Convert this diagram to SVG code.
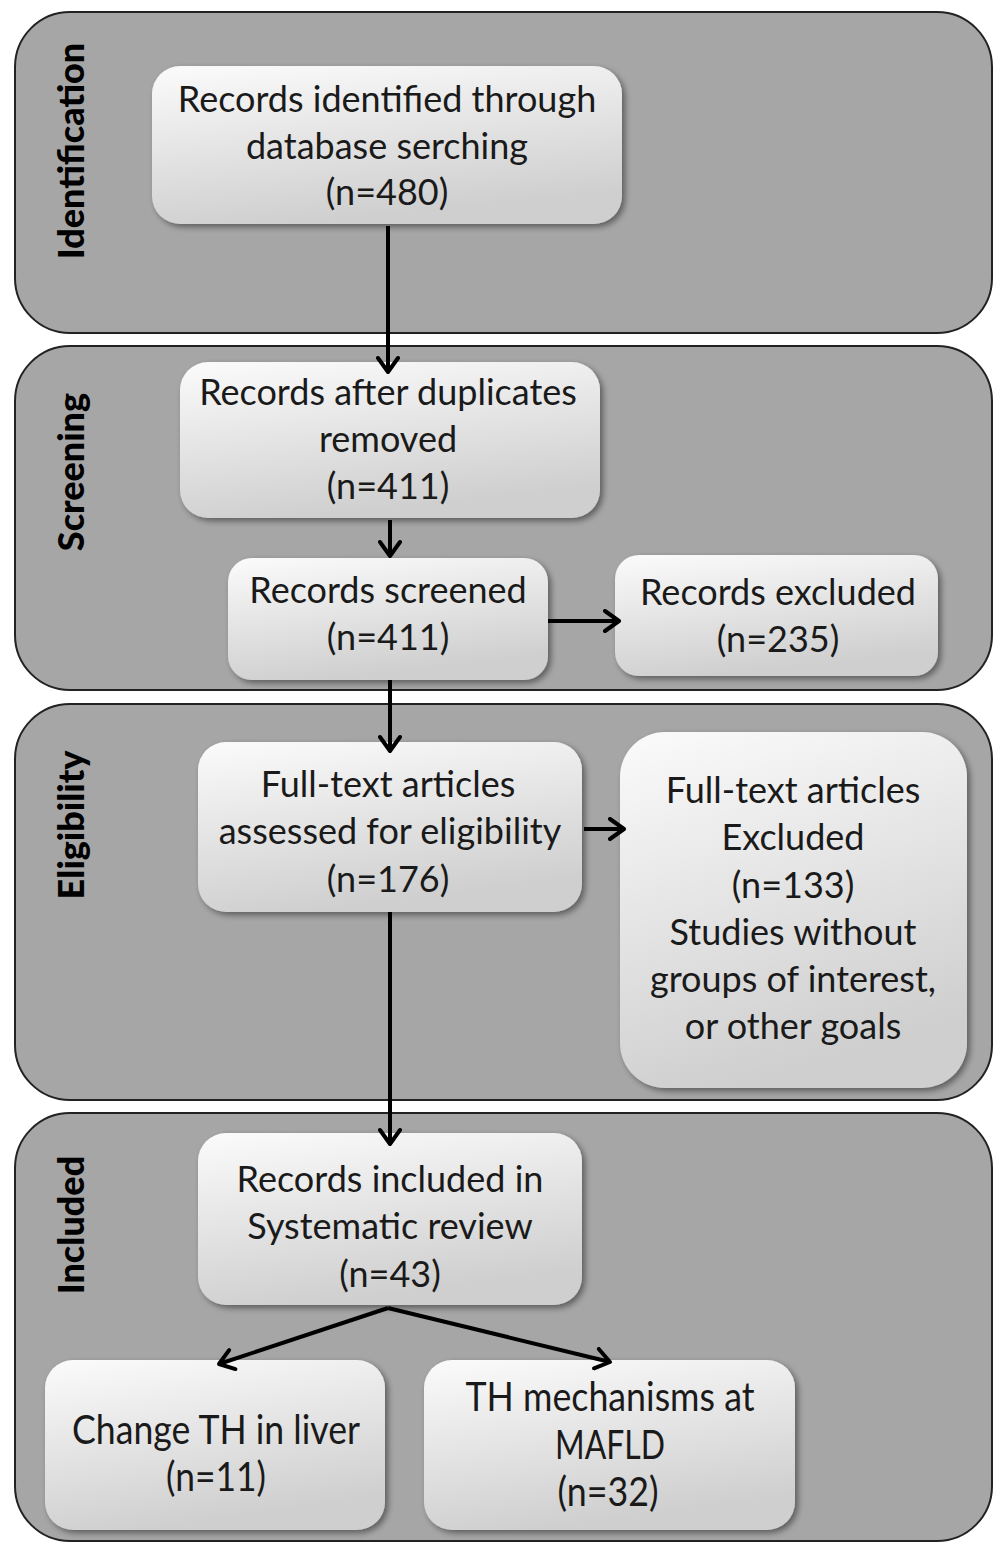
<svg xmlns="http://www.w3.org/2000/svg" width="996" height="1544" viewBox="0 0 996 1544">
<defs>
<linearGradient id="bx" x1="0" y1="0" x2="0.3" y2="1">
<stop offset="0" stop-color="#fbfbfb"/>
<stop offset="1" stop-color="#cfcfcf"/>
</linearGradient>
<filter id="sh" x="-10%" y="-10%" width="130%" height="130%">
<feGaussianBlur in="SourceAlpha" stdDeviation="3"/>
<feOffset dx="3" dy="3"/>
<feComponentTransfer><feFuncA type="linear" slope="0.45"/></feComponentTransfer>
<feMerge><feMergeNode/><feMergeNode in="SourceGraphic"/></feMerge>
</filter>
<marker id="ah" viewBox="0 0 24 24" refX="20" refY="12" markerWidth="24" markerHeight="24" markerUnits="userSpaceOnUse" orient="auto">
<path d="M6,2 L20,12 L6,22" fill="none" stroke="#000" stroke-width="4" stroke-linecap="round" stroke-linejoin="round"/>
</marker>
</defs>
<style>
.panel{fill:#a6a6a6;stroke:#222;stroke-width:2}
.box{fill:url(#bx);filter:url(#sh)}
.t{font-family:Lato,"Liberation Sans",sans-serif;font-size:36px;fill:#1a1a1a;text-anchor:middle}
.c{font-family:Lato,"Liberation Sans",sans-serif;font-size:40px;fill:#1a1a1a;text-anchor:middle}
.lab{font-family:Lato,"Liberation Sans",sans-serif;font-weight:900;font-size:36px;fill:#000;text-anchor:middle}
.ln{stroke:#000;stroke-width:4;fill:none}
</style>
<rect width="996" height="1544" fill="#fff"/>
<g id="panels">
<rect class="panel" x="15" y="12" width="977" height="321" rx="55"/>
<rect class="panel" x="15" y="346" width="977" height="344" rx="55"/>
<rect class="panel" x="15" y="704" width="977" height="396" rx="55"/>
<rect class="panel" x="15" y="1113" width="977" height="428" rx="55"/>
<text class="lab" transform="translate(84,151) rotate(-90)">Identification</text>
<text class="lab" transform="translate(84,472) rotate(-90)">Screening</text>
<text class="lab" transform="translate(84,825) rotate(-90)">Eligibility</text>
<text class="lab" transform="translate(84,1225) rotate(-90)">Included</text>
</g>
<g id="n1">
<rect class="box" x="152" y="66" width="470" height="158" rx="28"/>
<text class="t" x="387" y="112">Records identified through</text>
<text class="t" x="387" y="159">database serching</text>
<text class="t" x="387" y="205">(n=480)</text>
</g>
<g id="n2">
<rect class="box" x="180" y="362" width="420" height="156" rx="28"/>
<text class="t" x="388" y="405">Records after duplicates</text>
<text class="t" x="388" y="452">removed</text>
<text class="t" x="388" y="499">(n=411)</text>
</g>
<g id="n3">
<rect class="box" x="228" y="558" width="320" height="122" rx="24"/>
<text class="t" x="388" y="603">Records screened</text>
<text class="t" x="388" y="650">(n=411)</text>
</g>
<g id="n4">
<rect class="box" x="615" y="555" width="323" height="121" rx="24"/>
<text class="t" x="778" y="605">Records excluded</text>
<text class="t" x="778" y="652">(n=235)</text>
</g>
<g id="n5">
<rect class="box" x="198" y="742" width="384" height="170" rx="28"/>
<text class="t" x="388" y="797">Full-text articles</text>
<text class="t" x="390" y="844">assessed for eligibility</text>
<text class="t" x="388" y="892">(n=176)</text>
</g>
<g id="n6">
<rect class="box" x="620" y="732" width="347" height="356" rx="45"/>
<text class="t" x="793" y="803">Full-text articles</text>
<text class="t" x="793" y="850">Excluded</text>
<text class="t" x="793" y="898">(n=133)</text>
<text class="t" x="793" y="945">Studies without</text>
<text class="t" x="793" y="992">groups of interest,</text>
<text class="t" x="793" y="1039">or other goals</text>
</g>
<g id="n7">
<rect class="box" x="198" y="1133" width="384" height="172" rx="28"/>
<text class="t" x="390" y="1192">Records included in</text>
<text class="t" x="390" y="1239">Systematic review</text>
<text class="t" x="390" y="1287">(n=43)</text>
</g>
<g id="n8">
<rect class="box" x="45" y="1360" width="340" height="170" rx="28"/>
<text class="c" x="216" y="1444" textLength="288" lengthAdjust="spacingAndGlyphs">Change TH in liver</text>
<text class="c" x="216" y="1491" textLength="100" lengthAdjust="spacingAndGlyphs">(n=11)</text>
</g>
<g id="n9">
<rect class="box" x="424" y="1360" width="371" height="170" rx="28"/>
<text class="c" x="610" y="1411" textLength="289" lengthAdjust="spacingAndGlyphs">TH mechanisms at</text>
<text class="c" x="610" y="1459" textLength="110" lengthAdjust="spacingAndGlyphs">MAFLD</text>
<text class="c" x="608" y="1506" textLength="101" lengthAdjust="spacingAndGlyphs">(n=32)</text>
</g>
<g id="connectors">
<line class="ln" x1="388" y1="226" x2="388" y2="372" marker-end="url(#ah)"/>
<line class="ln" x1="390" y1="520" x2="390" y2="556" marker-end="url(#ah)"/>
<line class="ln" x1="390" y1="680" x2="390" y2="751" marker-end="url(#ah)"/>
<line class="ln" x1="390" y1="912" x2="390" y2="1144" marker-end="url(#ah)"/>
<line class="ln" x1="548" y1="621" x2="619" y2="621" marker-end="url(#ah)"/>
<line class="ln" x1="584" y1="829" x2="624" y2="829" marker-end="url(#ah)"/>
<line class="ln" x1="388" y1="1308" x2="219" y2="1364" marker-end="url(#ah)"/>
<line class="ln" x1="388" y1="1308" x2="610" y2="1362" marker-end="url(#ah)"/>
</g>
</svg>
